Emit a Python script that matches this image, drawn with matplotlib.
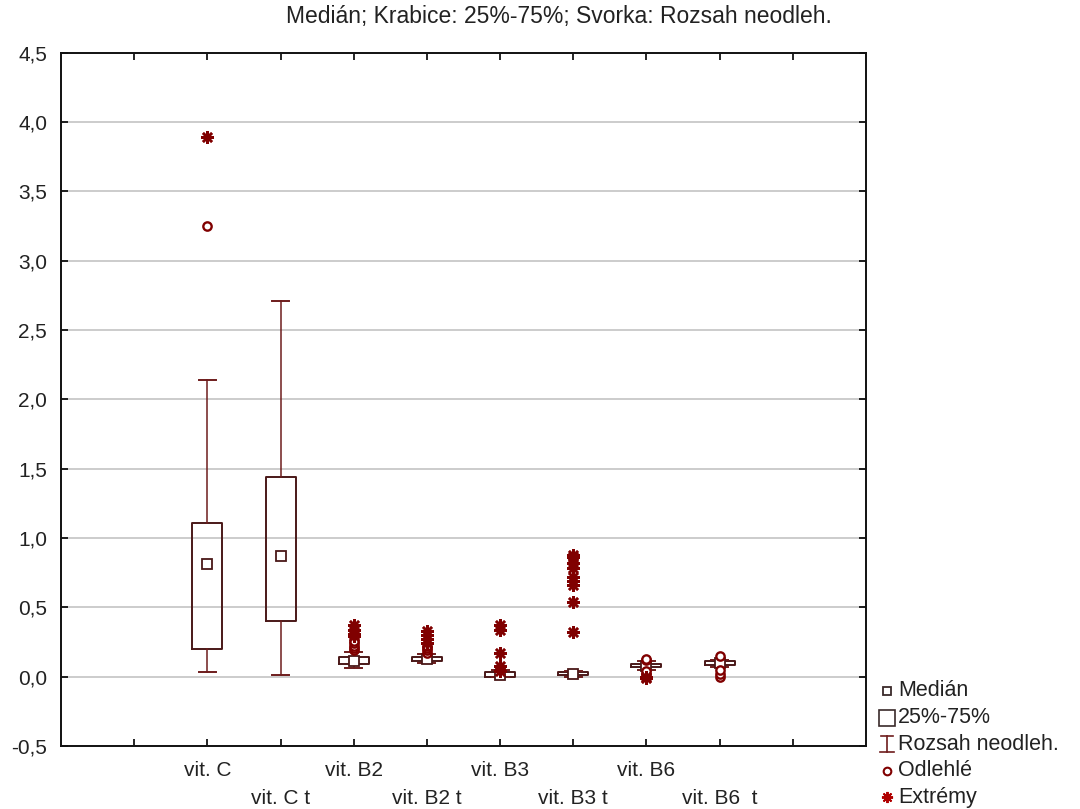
import matplotlib
matplotlib.use("Agg")
import matplotlib.pyplot as plt
from matplotlib.lines import Line2D
from matplotlib.patches import Rectangle

plt.rcParams['font.family'] = ['Liberation Sans', 'DejaVu Sans']

# ---- data -------------------------------------------------------------
labels = ["vit. C", "vit. C t", "vit. B2", "vit. B2 t",
          "vit. B3", "vit. B3 t", "vit. B6", "vit. B6  t"]
whislo = [0.03, 0.01, 0.06, 0.10, 0.00, 0.00, 0.05, 0.07]
q1     = [0.20, 0.40, 0.09, 0.11, 0.00, 0.01, 0.07, 0.085]
med    = [0.81, 0.87, 0.115, 0.125, 0.01, 0.02, 0.08, 0.10]
q3     = [1.11, 1.44, 0.145, 0.14, 0.03, 0.035, 0.09, 0.11]
whishi = [2.14, 2.71, 0.18, 0.16, 0.05, 0.04, 0.11, 0.12]
outliers = [[3.25], [], [0.19, 0.21, 0.22, 0.24, 0.26],
            [0.17, 0.19, 0.21, 0.22], [0.06], [],
            [0.02, 0.04, 0.12, 0.13], [0.0, 0.02, 0.05, 0.15]]
extremes = [[3.89], [], [0.29, 0.31, 0.34, 0.37],
            [0.24, 0.27, 0.30, 0.33], [0.04, 0.08, 0.17, 0.34, 0.37],
            [0.32, 0.54, 0.66, 0.69, 0.72, 0.78, 0.82, 0.86, 0.88],
            [0.0, -0.01], []]
yticks = [-0.5, 0.0, 0.5, 1.0, 1.5, 2.0, 2.5, 3.0, 3.5, 4.0, 4.5]
title = "Medián; Krabice: 25%-75%; Svorka: Rozsah neodleh."
legend_labels = ["Medián", "25%-75%", "Rozsah neodleh.", "Odlehlé", "Extrémy"]

# ---- style ------------------------------------------------------------
W, H = 1080, 809
BOX = "#4a1818"
WHISK = "#6e1c1c"
MARK = "#800000"
TXT = "#222222"
ASTER = (8, 2, 0)

fig = plt.figure(figsize=(W / 100, H / 100), dpi=100)
ax = fig.add_axes([61 / W, 1 - 746 / H, (866 - 61) / W, (746 - 52.6) / H])

pos = list(range(1, len(labels) + 1))
stats = [dict(med=m, q1=a, q3=b, whislo=lo, whishi=hi, fliers=[])
         for m, a, b, lo, hi in zip(med, q1, q3, whislo, whishi)]
ax.bxp(stats, positions=pos, widths=0.41, capwidths=0.23, showfliers=False,
       boxprops=dict(color=BOX, linewidth=1.4),
       whiskerprops=dict(color=WHISK, linewidth=1.1),
       capprops=dict(color=WHISK, linewidth=1.4),
       medianprops=dict(linestyle="none"), zorder=3)

# median squares
ax.plot(pos, med, linestyle="none", marker="s", markersize=6.5,
        markerfacecolor="white", markeredgecolor=BOX, markeredgewidth=1.3,
        zorder=4)

# outliers and extremes
for p, vals in zip(pos, outliers):
    if vals:
        ax.plot([p] * len(vals), vals, linestyle="none", marker="o",
                markersize=6, markerfacecolor="white", markeredgecolor=MARK,
                markeredgewidth=1.7, zorder=5)
for p, vals in zip(pos, extremes):
    if vals:
        ax.plot([p] * len(vals), vals, linestyle="none", marker=ASTER,
                markersize=9, markeredgecolor=MARK, markerfacecolor=MARK,
                markeredgewidth=1.8, zorder=5)

ax.set_xlim(-1, 10)
ax.set_ylim(-0.5, 4.5)
ax.set_yticks(yticks)
ax.set_yticklabels([f"{v:.1f}".replace(".", ",") for v in yticks])
ax.yaxis.grid(True, color="#c8c8c8", linewidth=1.3)
ax.set_axisbelow(True)

xt = list(range(0, 10))
ax.set_xticks(xt)
ax.set_xticklabels(["" if t not in pos else labels[t - 1] for t in xt])
for t, tick in zip(xt, ax.xaxis.get_major_ticks()):
    tick.set_pad(11 if t % 2 == 1 else 31)

ax.tick_params(axis="x", direction="in", length=5, width=1.2, top=True,
               labelsize=15, labelcolor=TXT)
ax.tick_params(axis="y", direction="in", length=5, width=1.2, right=True,
               labelsize=15, labelcolor=TXT, pad=10)
for s in ax.spines.values():
    s.set_linewidth(1.4)
    s.set_color("#111111")

# ---- title and legend on a pixel-coordinate overlay --------------------
lax = fig.add_axes([0, 0, 1, 1], facecolor="none")
lax.set_xlim(0, W)
lax.set_ylim(H, 0)
lax.axis("off")

lax.text(559, 16, title, ha="center", va="center", fontsize=16.5, color=TXT)

rows = [691, 717.5, 744, 770.5, 797]
mx, tx = 887, 898
lax.plot(mx, rows[0], marker="s", markersize=6, markerfacecolor="white",
         markeredgecolor="#3a2a2a", markeredgewidth=1.3)
lax.add_patch(Rectangle((mx - 8, rows[1] - 8), 16, 16, fill=False,
                        edgecolor="#3a2a2a", linewidth=1.2))
lax.add_line(Line2D([mx, mx], [rows[2] - 8, rows[2] + 8], color=WHISK, lw=1.2))
lax.add_line(Line2D([mx - 6, mx + 6], [rows[2] - 8, rows[2] - 8], color=WHISK, lw=1.2))
lax.add_line(Line2D([mx - 7, mx + 7], [rows[2] + 8, rows[2] + 8], color=WHISK, lw=1.2))
lax.plot(mx, rows[3], marker="o", markersize=5.5, markerfacecolor="white",
         markeredgecolor=MARK, markeredgewidth=1.5)
lax.plot(mx, rows[4], marker=ASTER, markersize=8, markeredgecolor="#b00000",
         markeredgewidth=1.4)
for y, lab in zip(rows, legend_labels):
    lax.text(tx, y, lab, ha="left", va="center", fontsize=15.5, color=TXT)

fig.savefig("out.png", dpi=100, facecolor="white")
